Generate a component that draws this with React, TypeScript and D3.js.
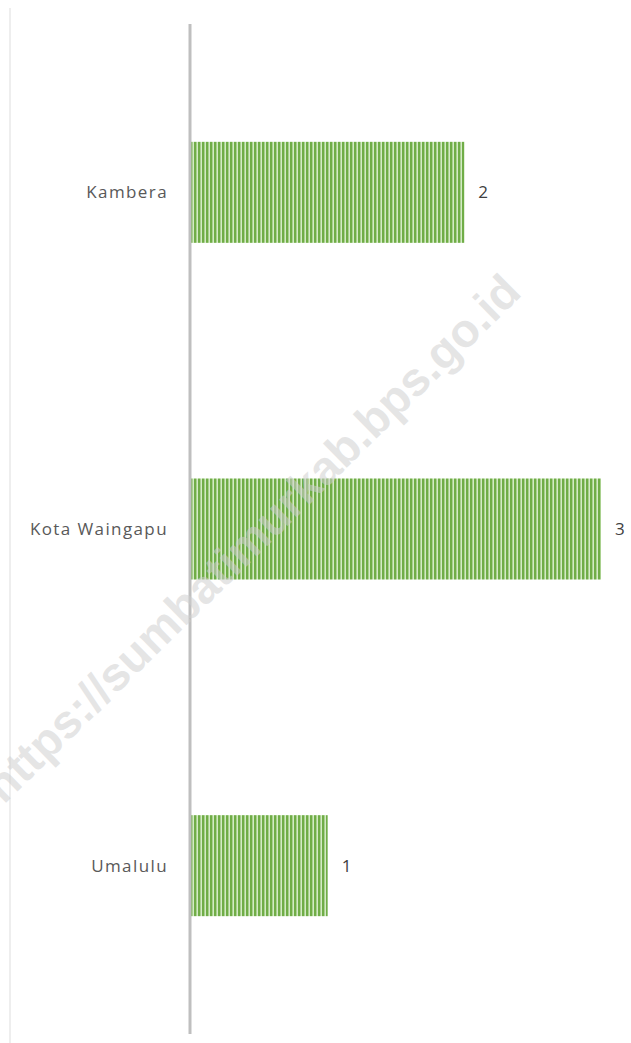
import { useEffect, useRef } from 'react';
import * as d3 from 'd3';

// Data
const categories = ['Kambera', 'Kota Waingapu', 'Umalulu'];
const values = [2, 3, 1];
const watermark = 'https://sumbatimurkab.bps.go.id';

export default function App() {
    const svgRef = useRef<SVGSVGElement>(null);

    useEffect(() => {
        if (!svgRef.current) return;
        const width = 631;
        const height = 1043;
        const margin = { top: 24, right: 29, bottom: 9, left: 190 };
        const innerWidth = width - margin.left - margin.right;
        const innerHeight = height - margin.top - margin.bottom;

        d3.select(svgRef.current).selectAll('*').remove();
        const svg = d3.select(svgRef.current)
            .attr('width', width)
            .attr('height', height);

        // Stripe pattern for the bars
        const defs = svg.append('defs');
        const pattern = defs.append('pattern')
            .attr('id', 'stripes')
            .attr('patternUnits', 'userSpaceOnUse')
            .attr('width', 4)
            .attr('height', 10);
        pattern.append('rect').attr('width', 4).attr('height', 10).attr('fill', '#a9d18e');
        pattern.append('rect').attr('x', 0).attr('width', 2).attr('height', 10).attr('fill', '#70ad47');
        pattern.append('rect').attr('x', 3).attr('width', 1).attr('height', 10).attr('fill', '#d4eac6');

        // Left frame line
        svg.append('line')
            .attr('x1', 10).attr('x2', 10)
            .attr('y1', 8).attr('y2', height)
            .attr('stroke', '#e8e8e8')
            .attr('stroke-width', 1.5);

        const g = svg.append('g')
            .attr('transform', `translate(${margin.left},${margin.top})`);

        const y = d3.scaleBand<string>()
            .domain(categories)
            .range([0, innerHeight])
            .paddingInner(0.7)
            .paddingOuter(0.35);

        const x = d3.scaleLinear()
            .domain([0, 3])
            .range([0, innerWidth - 2]);

        // Bars
        g.selectAll('rect.bar')
            .data(categories)
            .enter()
            .append('rect')
            .attr('class', 'bar')
            .attr('x', 1)
            .attr('y', d => y(d)!)
            .attr('width', (_, i) => x(values[i]))
            .attr('height', y.bandwidth())
            .attr('fill', 'url(#stripes)');

        // Category labels
        g.selectAll('text.cat')
            .data(categories)
            .enter()
            .append('text')
            .attr('class', 'cat')
            .attr('x', -22)
            .attr('y', d => y(d)! + y.bandwidth() / 2)
            .attr('dy', '0.35em')
            .attr('text-anchor', 'end')
            .attr('fill', '#595959')
            .attr('font-family', 'Open Sans, sans-serif')
            .attr('font-size', 17)
            .attr('letter-spacing', 1.4)
            .text(d => d);

        // Value labels
        g.selectAll('text.val')
            .data(categories)
            .enter()
            .append('text')
            .attr('class', 'val')
            .attr('x', (_, i) => x(values[i]) + 15)
            .attr('y', d => y(d)! + y.bandwidth() / 2)
            .attr('dy', '0.35em')
            .attr('fill', '#404040')
            .attr('font-family', 'Open Sans, sans-serif')
            .attr('font-size', 17)
            .text((_, i) => values[i]);

        // Axis line
        g.append('line')
            .attr('x1', 0).attr('x2', 0)
            .attr('y1', 0).attr('y2', innerHeight)
            .attr('stroke', '#bfbfbf')
            .attr('stroke-width', 3);

        // Watermark, drawn over the chart
        svg.append('text')
            .attr('transform', 'translate(252,538) rotate(-44.5)')
            .attr('text-anchor', 'middle')
            .attr('dy', '0.35em')
            .attr('fill', '#cfcfcf')
            .attr('fill-opacity', 0.55)
            .attr('font-family', 'Liberation Sans, Arial, sans-serif')
            .attr('font-weight', 'bold')
            .attr('font-size', 47)
            .text(watermark);
    }, []);

    return <svg ref={svgRef} style={{ position: 'absolute', left: 0, top: 0 }} />;
}
